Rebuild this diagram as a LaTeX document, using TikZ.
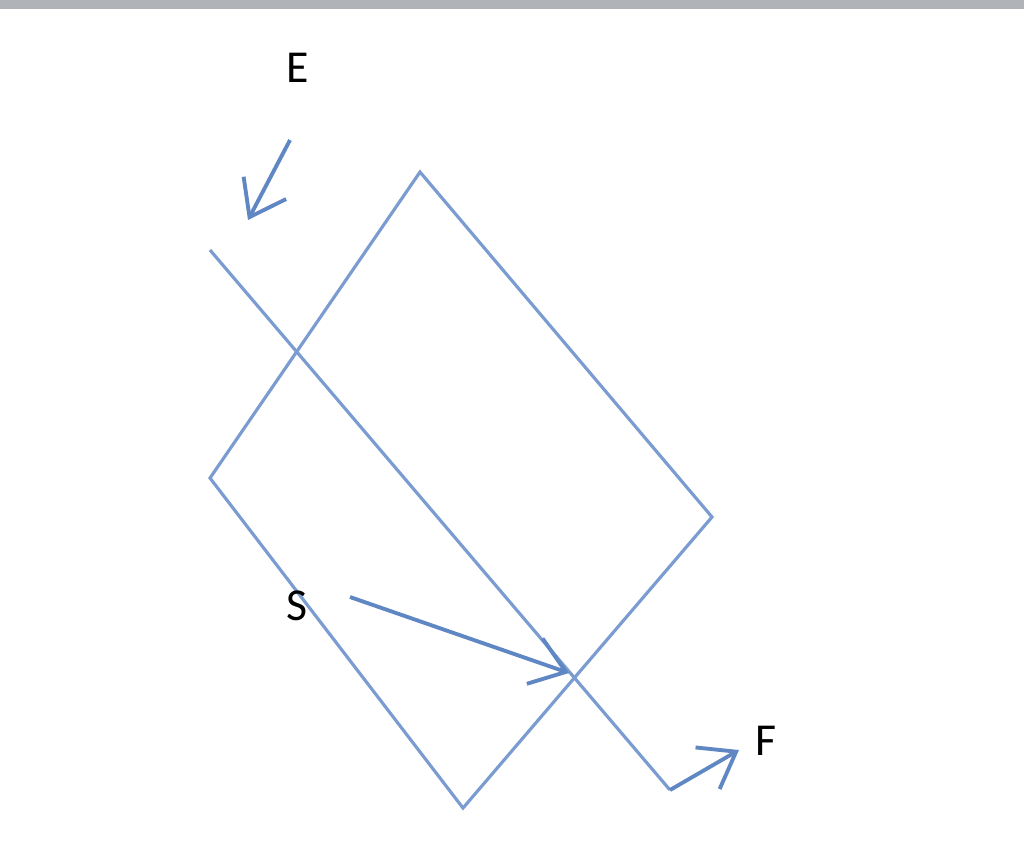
\documentclass[tikz,border=0pt]{standalone}
\usepackage{fontspec}
\setmainfont{Carlito}
\usetikzlibrary{arrows.meta}
\definecolor{lineblue}{RGB}{122,156,208}
\definecolor{arrowblue}{RGB}{95,135,195}
\definecolor{topbar}{RGB}{176,179,184}
\tikzset{
  ray/.style={draw=lineblue, line width=0.9pt},
  dir/.style={draw=arrowblue, line width=1.1pt, -{Straight Barb[length=3.3mm,width=4.8mm]}},
  lbl/.style={font=\fontsize{13}{15}\selectfont, text=black}
}
\begin{document}
\begin{tikzpicture}[x=0.01cm,y=-0.01cm]
\useasboundingbox (0,0) rectangle (1024,859);
\fill[topbar] (0,0) rectangle (1024,9);

% the tilted box
\coordinate (top) at (420,172);
\coordinate (right) at (712,517);
\coordinate (bottom) at (463,808);
\coordinate (left) at (210,478);
\path[ray] (top) -- (right) -- (bottom) -- (left) -- cycle;

% the crossing line
\coordinate (rayin) at (210,250);
\coordinate (rayout) at (670,790);
\path[ray] (rayin) -- (rayout);

\node[lbl] (lblE) at (298,68) {E};
\coordinate (etail) at (290,140);
\coordinate (ehead) at (248,220);
\draw[dir] (etail) to (ehead);

\node[lbl] (lblS) at (297,606) {S};
\coordinate (stail) at (350,597);
\coordinate (shead) at (569,673);
\draw[dir] (stail) to (shead);

\node[lbl] (lblF) at (766,741) {F};
\coordinate (fhead) at (739,750);
\draw[dir] (rayout) to (fhead);
\end{tikzpicture}
\end{document}
